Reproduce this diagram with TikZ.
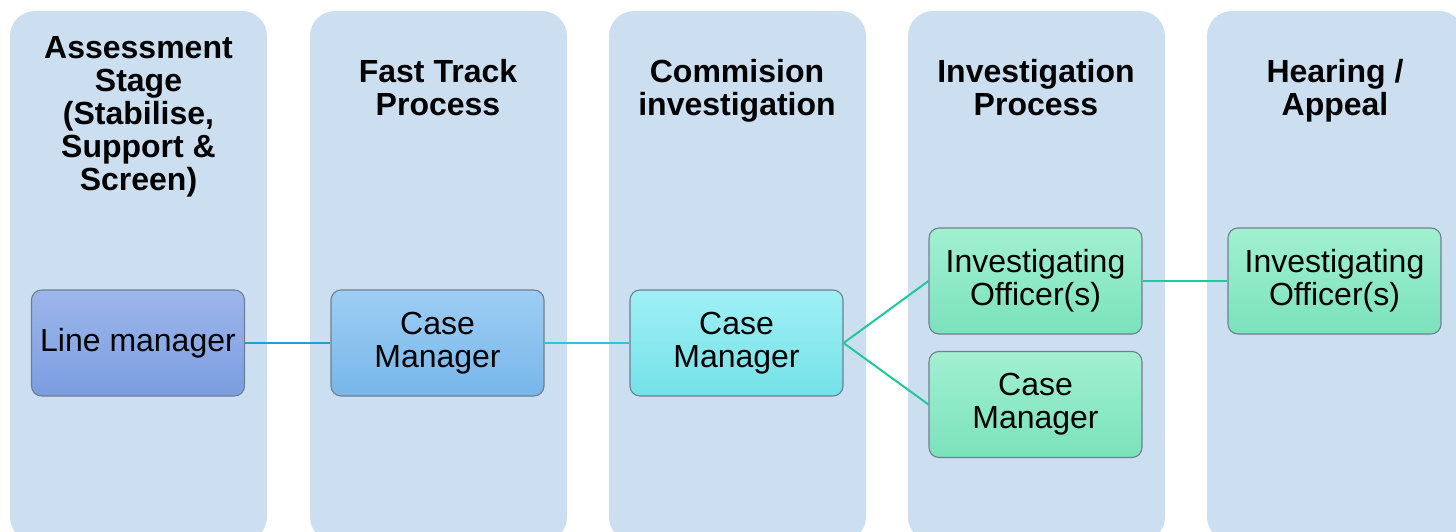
\documentclass[tikz,border=0pt]{standalone}
\usepackage{fontspec}
\setmainfont{Liberation Sans}
\definecolor{colbg}{HTML}{CCDFF0}
\definecolor{lmtop}{HTML}{9DB6EB}
\definecolor{lmbot}{HTML}{7A9DE0}
\definecolor{cmatop}{HTML}{9DCEF4}
\definecolor{cmabot}{HTML}{77B6EA}
\definecolor{cmbtop}{HTML}{9FF0F5}
\definecolor{cmbbot}{HTML}{74E1E8}
\definecolor{grtop}{HTML}{A2F0D0}
\definecolor{grbot}{HTML}{7AE2BC}
\definecolor{boxline}{HTML}{6E7F92}
\definecolor{lnblue}{HTML}{1BA1D5}
\definecolor{lncyan}{HTML}{22CCD6}
\definecolor{lngreen}{HTML}{1FC99A}
\begin{document}
\begin{tikzpicture}[x=1pt,y=-1pt,
  title/.style={font=\bfseries\fontsize{32}{33}\selectfont,align=center,anchor=base,inner sep=0pt},
  role/.style={draw=boxline,line width=1.1pt,rounded corners=10pt,minimum width=213pt,minimum height=106pt,
    align=center,inner sep=2pt,font=\fontsize{32}{33}\selectfont},
  conn/.style={line width=2pt}]
\useasboundingbox (0,0) rectangle (1456,532);
\clip (0,0) rectangle (1456,532);
% columns
\foreach \x in {10,310,609,908,1207}
  \fill[colbg,rounded corners=25pt] (\x,11) rectangle (\x+257,542);
% titles (base = baseline of last line)
\node[title] (t1) at (138.5,190) {Assessment\\Stage\\(Stabilise,\\Support \&\\Screen)};
\node[title] (t2) at (438,116) {Fast Track\\Process};
\node[title] (t3) at (737,116) {Commision\\investigation};
\node[title] (t4) at (1036,116) {Investigation\\Process};
\node[title] (t5) at (1335,116) {Hearing /\\Appeal};
% role boxes
\node[role,top color=lmtop,bottom color=lmbot] (lm) at (138,343) {Line manager};
\node[role,top color=cmatop,bottom color=cmabot] (cm1) at (437.5,343) {Case\\Manager};
\node[role,top color=cmbtop,bottom color=cmbbot] (cm2) at (736.5,343) {Case\\Manager};
\node[role,top color=grtop,bottom color=grbot] (io1) at (1035.5,281) {Investigating\\Officer(s)};
\node[role,top color=grtop,bottom color=grbot] (cm3) at (1035.5,404.5) {Case\\Manager};
\node[role,top color=grtop,bottom color=grbot] (io2) at (1334.5,281) {Investigating\\Officer(s)};
% connectors
\draw[conn,lnblue] (lm.east) -- (cm1.west);
\draw[conn,lncyan] (cm1.east) -- (cm2.west);
\draw[conn,lngreen] (cm2.east) -- (io1.west);
\draw[conn,lngreen] (cm2.east) -- (cm3.west);
\draw[conn,lngreen] (io1.east) -- (io2.west);
\end{tikzpicture}
\end{document}
